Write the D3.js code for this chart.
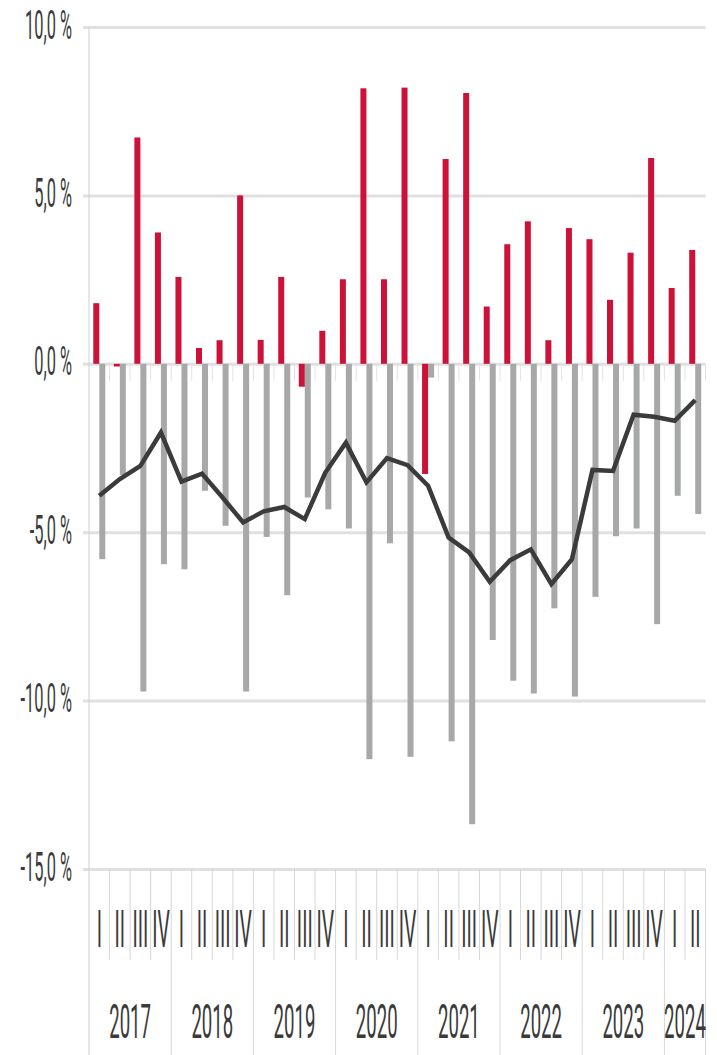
<!DOCTYPE html>
<html>
<head>
<meta charset="utf-8">
<script src="https://cdn.jsdelivr.net/npm/d3@7"></script>
<style>
  html, body { margin: 0; padding: 0; background: #fff; }
  svg { display: block; }
  text { font-family: Roboto, "Liberation Sans", Arial, sans-serif; fill: #3a3a3a; }
</style>
</head>
<body>
<svg id="chart" width="717" height="1055"></svg>
<script>
// Quarterly series, 2017 Q1 – 2024 Q2
const years = ["2017", "2018", "2019", "2020", "2021", "2022", "2023", "2024"];
const quarterNames = ["I", "II", "III", "IV"];
const quarterCount = 30;

// Red bars (per quarter, %)
const redValues = [
  1.8, -0.08, 6.72, 3.9,
  2.58, 0.47, 0.7, 5.0,
  0.71, 2.58, -0.68, 0.98,
  2.51, 8.18, 2.51, 8.2,
  -3.27, 6.08, 8.04, 1.7,
  3.55, 4.23, 0.7, 4.03,
  3.7, 1.9, 3.3, 6.11,
  2.25, 3.38
];

// Grey bars (per quarter, %)
const greyValues = [
  -5.8, -3.3, -9.73, -5.95,
  -6.1, -3.77, -4.81, -9.73,
  -5.14, -6.87, -3.97, -4.32,
  -4.89, -11.74, -5.33, -11.67,
  -0.41, -11.21, -13.67, -8.2,
  -9.41, -9.79, -7.26, -9.88,
  -6.92, -5.12, -4.89, -7.73,
  -3.92, -4.46
];

// Line (per quarter, %)
const lineValues = [
  -3.92, -3.42, -3.03, -2.04,
  -3.5, -3.26, -3.97, -4.71,
  -4.38, -4.25, -4.61, -3.23,
  -2.34, -3.52, -2.8, -3.01,
  -3.62, -5.16, -5.6, -6.47,
  -5.83, -5.51, -6.54, -5.8,
  -3.15, -3.18, -1.51, -1.57,
  -1.69, -1.08
];

const yTicks = [-15, -10, -5, 0, 5, 10];

const svg = d3.select("#chart");
const plotLeft = 89, plotRight = 705.5, plotTop = 27, plotBottom = 869;
const condense = 0.38;

const idx = d3.range(quarterCount);
const x = d3.scaleBand().domain(idx).range([plotLeft, plotRight]).padding(0);
const inner = d3.scaleBand().domain(["red", "grey"]).range([0, x.bandwidth()])
  .paddingInner(0).paddingOuter(0.71);
const y = d3.scaleLinear().domain([-15, 10]).range([plotBottom, plotTop]);

const fmt = v => d3.format(".1f")(v).replace(".", ",").replace("\u2212", "-") + " %";

// Horizontal gridlines + y labels
const yAxis = d3.axisLeft(y).tickValues(yTicks).tickSize(-(plotRight - (plotLeft - 6))).tickFormat(fmt);
const gy = svg.append("g").attr("transform", `translate(${plotLeft - 6},0)`).call(yAxis);
gy.select(".domain").remove();
gy.selectAll(".tick line").attr("stroke", "#e0e0e0").attr("stroke-width", 3);
gy.selectAll(".tick text")
  .attr("x", null).attr("dy", null)
  .attr("text-anchor", "end")
  .attr("font-size", 41)
  .attr("fill", "#3a3a3a")
  .attr("transform", `translate(-11,11) scale(0.4,1)`);

// Left axis line and category dividers
svg.append("line")
  .attr("x1", plotLeft).attr("x2", plotLeft).attr("y1", plotTop).attr("y2", 1055)
  .attr("stroke", "#cfcfcf").attr("stroke-width", 1);

const boundaries = d3.range(1, quarterCount + 1);
svg.append("g").selectAll("line").data(boundaries).join("line")
  .attr("x1", i => x(i - 1) + x.bandwidth()).attr("x2", i => x(i - 1) + x.bandwidth())
  .attr("y1", plotBottom)
  .attr("y2", i => (i % 4 === 0 || i === quarterCount) ? 1055 : 960)
  .attr("stroke", "#d6d6d6").attr("stroke-width", 1);

// Short ticks under the zero line
svg.append("g").selectAll("line").data(boundaries).join("line")
  .attr("x1", i => x(i - 1) + x.bandwidth()).attr("x2", i => x(i - 1) + x.bandwidth())
  .attr("y1", y(0)).attr("y2", y(0) + 17)
  .attr("stroke", "#e2e2e2").attr("stroke-width", 1);

// Grey bars
svg.append("g").selectAll("rect").data(greyValues).join("rect")
  .attr("x", (d, i) => x(i) + inner("grey"))
  .attr("width", inner.bandwidth())
  .attr("y", d => y(Math.max(0, d)))
  .attr("height", d => Math.abs(y(d) - y(0)))
  .attr("fill", "#a7a8a8");

// Red bars
svg.append("g").selectAll("rect").data(redValues).join("rect")
  .attr("x", (d, i) => x(i) + inner("red"))
  .attr("width", inner.bandwidth())
  .attr("y", d => y(Math.max(0, d)))
  .attr("height", d => Math.abs(y(d) - y(0)))
  .attr("fill", "#cc1239");

// Line
const line = d3.line().x((d, i) => x(i) + x.bandwidth() / 2).y(d => y(d));
svg.append("path").datum(lineValues)
  .attr("d", line)
  .attr("fill", "none")
  .attr("stroke", "#3b3b3b")
  .attr("stroke-width", 4.5)
  .attr("stroke-linejoin", "miter");

// Quarter labels
svg.append("g").selectAll("text").data(idx).join("text")
  .attr("transform", i => `translate(${x(i) + x.bandwidth() / 2},947) scale(${condense},1)`)
  .attr("text-anchor", "middle")
  .attr("font-size", 51)
  .text(i => quarterNames[i % 4]);

// Year labels
svg.append("g").selectAll("text").data(years).join("text")
  .attr("transform", (d, k) => {
    const first = k * 4;
    const last = Math.min(first + 3, quarterCount - 1);
    const cx = (x(first) + x(last) + x.bandwidth()) / 2;
    return `translate(${cx},1038) scale(${condense},1)`;
  })
  .attr("text-anchor", "middle")
  .attr("font-size", 49)
  .text(d => d);
</script>
</body>
</html>
